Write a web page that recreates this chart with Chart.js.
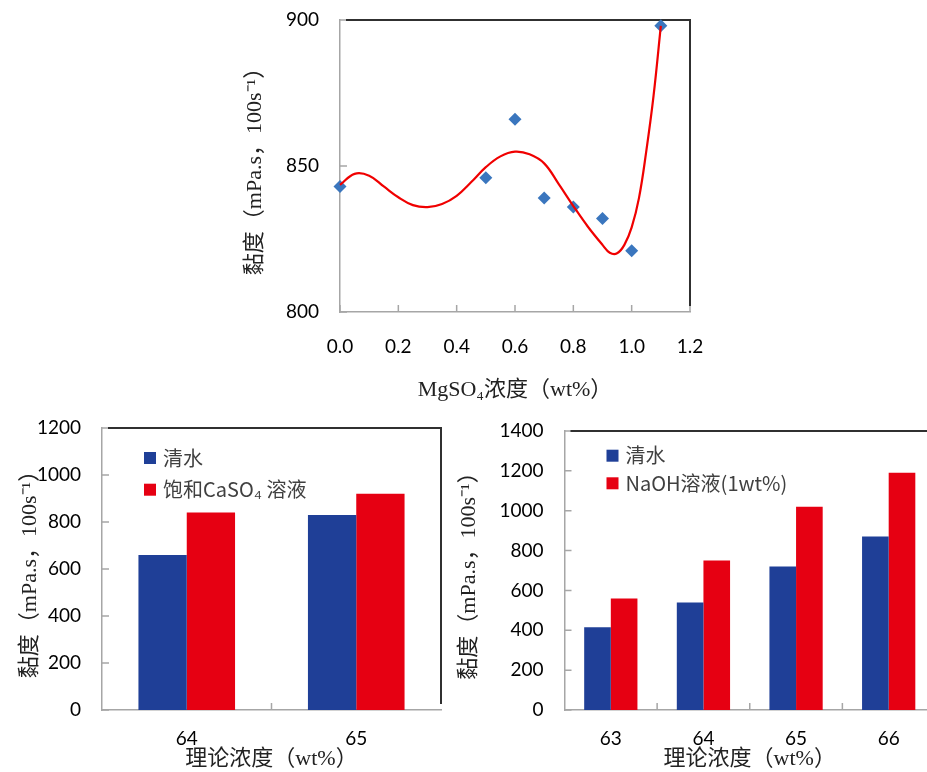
<!DOCTYPE html>
<html>
<head>
<meta charset="utf-8">
<script src="https://cdn.jsdelivr.net/npm/chart.js@4/dist/chart.umd.min.js"></script>
<style>
html, body { margin: 0; padding: 0; background: #fff; overflow: hidden; width: 927px; height: 772px; }
.box { position: absolute; }
</style>
</head>
<body>
<div class="box" style="left:240px; top:0px;"><canvas id="plotMg" width="470" height="410"></canvas></div>
<div class="box" style="left:0px; top:415px;"><canvas id="plotCaSO4" width="460" height="357"></canvas></div>
<div class="box" style="left:456px; top:415px;"><canvas id="plotNaOH" width="479" height="357"></canvas></div>
<script>
// MgSO4 series (measured points)
const mgConc = [0.0, 0.5, 0.6, 0.7, 0.8, 0.9, 1.0, 1.1];
const mgVisc = [843, 846, 866, 839, 836, 832, 821, 898];
// trend line
const fitConc = [0, 0.05, 0.1, 0.15, 0.2, 0.25, 0.3, 0.35, 0.4, 0.45, 0.5, 0.55, 0.6, 0.65, 0.7, 0.75, 0.8, 0.85, 0.9, 0.925, 0.95, 0.975, 1.0, 1.025, 1.05, 1.075, 1.1];
const fitVisc = [843.5, 847.3, 846.7, 843, 839.3, 836.6, 835.9, 837, 839.8, 844.5, 849.6, 853.3, 854.9, 854, 850.9, 843.8, 836.3, 829.2, 823, 820.3, 820.1, 823, 829, 839, 855, 874, 898];

// CaSO4 chart
const casoCats = ['64', '65'];
const casoWater = [660, 830];
const casoSalt = [840, 920];

// NaOH chart
const naohCats = ['63', '64', '65', '66'];
const naohWater = [415, 540, 720, 870];
const naohSol = [560, 750, 1020, 1190];

const BLUE = '#1F3F97';
const RED = '#E60012';
const AXIS_GRAY = '#A6A6A6';
const tickFont = { family: 'Lato, "Noto Sans", sans-serif', size: 19 };
const titleFont = { family: '"Liberation Serif", "Noto Sans CJK SC", serif', size: 22 };
const yTitle = '黏度（mPa.s，100s⁻¹）';

// no extra room for the edge labels, the layout padding handles it
function noLabelPad(s) {
    s.paddingTop = 0;
    s.paddingBottom = 0;
    s.paddingLeft = 0;
    s.paddingRight = 0;
}

// inner tick marks + dark top/right frame
const framePlugin = {
    id: 'frame',
    beforeDatasetsDraw(chart) {
        const { ctx, chartArea: a } = chart;
        const x = chart.scales.x, y = chart.scales.y;
        ctx.save();
        ctx.strokeStyle = AXIS_GRAY;
        ctx.lineWidth = 1.5;
        ctx.beginPath();
        y.ticks.forEach((t, i) => {
            const py = y.getPixelForTick(i);
            ctx.moveTo(a.left, py);
            ctx.lineTo(a.left + 7, py);
        });
        if (x.type === 'category') {
            for (let i = 0; i < x.ticks.length - 1; i++) {
                const px = (x.getPixelForTick(i) + x.getPixelForTick(i + 1)) / 2;
                ctx.moveTo(px, a.bottom);
                ctx.lineTo(px, a.bottom - 7);
            }
        } else {
            x.ticks.forEach((t, i) => {
                const px = x.getPixelForTick(i);
                ctx.moveTo(px, a.bottom);
                ctx.lineTo(px, a.bottom - 7);
            });
        }
        ctx.stroke();
        ctx.strokeStyle = '#303030';
        ctx.lineWidth = 2;
        ctx.beginPath();
        ctx.moveTo(a.left + 6, a.top);
        ctx.lineTo(a.right, a.top);
        ctx.lineTo(a.right, a.bottom - 6);
        ctx.stroke();
        ctx.restore();
    }
};

// legend drawn inside plot area
const legendPlugin = {
    id: 'boxLegend',
    afterDraw(chart, args, o) {
        const { ctx, chartArea: a } = chart;
        ctx.save();
        ctx.font = '20px "Noto Sans CJK SC", sans-serif';
        ctx.textBaseline = 'middle';
        chart.data.datasets.forEach((ds, i) => {
            const cy = a.top + o.dy + i * o.gap;
            const lx = a.left + o.dx;
            ctx.fillStyle = ds.backgroundColor;
            ctx.fillRect(lx, cy - 6, 12, 12);
            ctx.fillStyle = '#404040';
            ctx.fillText(ds.label, lx + 19, cy);
        });
        ctx.restore();
    }
};

new Chart(document.getElementById('plotMg'), {
    type: 'scatter',
    data: {
        datasets: [{
            label: 'fit',
            data: fitConc.map((c, i) => ({ x: c, y: fitVisc[i] })),
            showLine: true,
            borderColor: '#F00000',
            borderWidth: 2.2,
            pointRadius: 0,
            tension: 0.4,
            clip: false
        }, {
            label: 'MgSO4',
            data: mgConc.map((c, i) => ({ x: c, y: mgVisc[i] })),
            pointStyle: 'rectRot',
            pointRadius: 6.5,
            backgroundColor: '#3A76BE',
            borderColor: '#3A76BE',
            borderWidth: 0,
            clip: false
        }]
    },
    options: {
        responsive: false,
        animation: false,
        layout: { padding: { left: 0, top: 20, right: 20, bottom: 0 } },
        plugins: { legend: { display: false }, tooltip: { enabled: false } },
        scales: {
            x: {
                type: 'linear', min: 0, max: 1.2,
                ticks: { stepSize: 0.2, padding: 23, color: '#000', font: tickFont, callback: v => v.toFixed(1) },
                grid: { display: false, drawTicks: false },
                border: { color: AXIS_GRAY, width: 1.5 },
                title: { display: true, text: 'MgSO₄浓度（wt%）', color: '#222', font: titleFont, padding: { top: 0, bottom: 7 } },
                afterFit: s => { s.height = 98; noLabelPad(s); }
            },
            y: {
                min: 800, max: 900,
                ticks: { stepSize: 50, padding: 21, color: '#000', font: tickFont, callback: v => String(v) },
                grid: { display: false, drawTicks: false },
                border: { color: AXIS_GRAY, width: 1.5 },
                title: { display: true, text: yTitle, color: '#222', font: titleFont, padding: { top: 2, bottom: 0 } },
                afterFit: s => { s.width = 100; noLabelPad(s); }
            }
        }
    },
    plugins: [framePlugin]
});

function makeBars(id, cats, water, other, otherLabel, yMax, cfg) {
    new Chart(document.getElementById(id), {
        type: 'bar',
        data: {
            labels: cats,
            datasets: [
                { label: '清水', data: water, backgroundColor: BLUE, borderWidth: 0, categoryPercentage: cfg.cat, barPercentage: 1 },
                { label: otherLabel, data: other, backgroundColor: RED, borderWidth: 0, categoryPercentage: cfg.cat, barPercentage: 1 }
            ]
        },
        options: {
            responsive: false,
            animation: false,
            layout: { padding: { left: 0, top: cfg.top, right: cfg.right, bottom: 0 } },
            plugins: {
                legend: { display: false },
                tooltip: { enabled: false },
                boxLegend: { dx: 42, dy: cfg.legY, gap: cfg.legGap }
            },
            scales: {
                x: {
                    ticks: { padding: 17, color: '#000', font: tickFont },
                    grid: { display: false, drawTicks: false },
                    border: { color: AXIS_GRAY, width: 1.5 },
                    title: { display: true, text: '理论浓度（wt%）', color: '#222', font: titleFont, padding: { top: 0, bottom: 0 } },
                    afterFit: s => { s.height = 62; noLabelPad(s); }
                },
                y: {
                    min: 0, max: yMax,
                    ticks: { stepSize: 200, padding: 21, color: '#000', font: tickFont, callback: v => String(v) },
                    grid: { display: false, drawTicks: false },
                    border: { color: AXIS_GRAY, width: 1.5 },
                    title: { display: true, text: yTitle, color: '#222', font: titleFont, padding: { top: cfg.titlePad, bottom: 0 } },
                    afterFit: s => { s.width = cfg.yw; noLabelPad(s); }
                }
            }
        },
        plugins: [framePlugin, legendPlugin]
    });
}

makeBars('plotCaSO4', casoCats, casoWater, casoSalt, '饱和CaSO₄ 溶液', 1200,
    { cat: 0.57, top: 13, right: 19, yw: 102, titlePad: 17, legY: 30, legGap: 31.7 });
makeBars('plotNaOH', naohCats, naohWater, naohSol, 'NaOH溶液(1wt%)', 1400,
    { cat: 0.575, top: 16, right: 0, yw: 108.5, titlePad: 0, legY: 24.7, legGap: 27.6 });
</script>
</body>
</html>
